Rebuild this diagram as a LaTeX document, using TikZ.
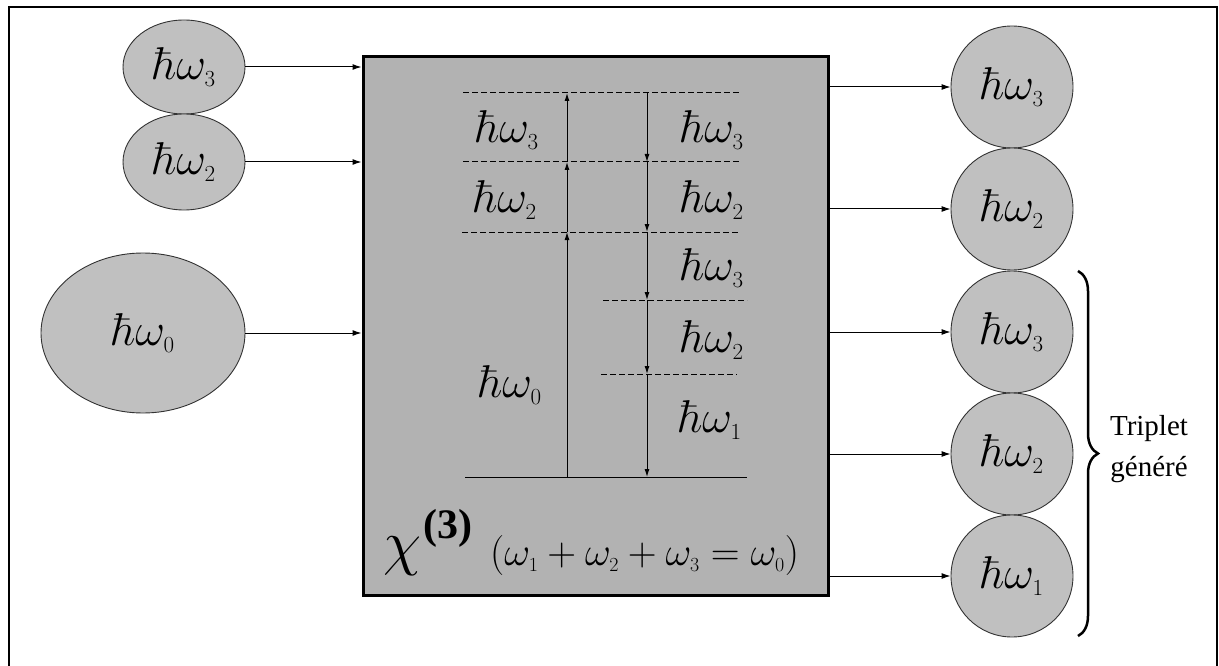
\RequirePackage{fix-cm}
\documentclass[tikz,border=0pt]{standalone}
\usepackage[no-math]{fontspec}
\setmainfont{Liberation Serif}
\usetikzlibrary{shapes.geometric,arrows.meta,decorations.pathreplacing}
\definecolor{circgray}{HTML}{C0C0C0}
\definecolor{boxgray}{HTML}{B2B2B2}
\newcommand{\hw}[1]{$\hbar\omega_{\scriptscriptstyle #1}$}
\begin{document}
\begin{tikzpicture}[x=1pt,y=-1pt,
  photon/.style={ellipse,draw=black!80,fill=circgray,line width=0.9pt,inner sep=0pt,font=\fontsize{46}{52}\selectfont},
  lvl/.style={font=\fontsize{46}{52}\selectfont,inner sep=0pt},
  conn/.style={line width=1pt,-{Latex[length=9pt,width=6pt]}},
  trans/.style={line width=1pt,-{Latex[length=8pt,width=5pt]}},
  dashlvl/.style={line width=1pt,dash pattern=on 6pt off 3pt},
  lbl/.style={font=\fontsize{29}{34}\selectfont,inner sep=0pt,anchor=base}]
\useasboundingbox (0,0) rectangle (1219,666);
\fill[white] (0,0) rectangle (1219,666);
\draw[line width=1.5pt] (9,672) -- (9,7) -- (1217,7) -- (1217,672);

% input photons
\node[photon,minimum width=122pt,minimum height=94pt] (L3) at (184,67) {\hw{3}};
\node[photon,minimum width=122pt,minimum height=96pt] (L2) at (184,162) {\hw{2}};
\node[photon,minimum width=204pt,minimum height=160pt] (L0) at (143,333) {\hw{0}};

% crystal box
\node[draw,line width=3pt,fill=boxgray,minimum width=465pt,minimum height=538pt,inner sep=0pt] (box) at (595.5,326) {};

\draw[conn] (L3.east) -- (L3.east -| box.west);
\draw[conn] (L2.east) -- (L2.east -| box.west);
\draw[conn] (L0.east) -- (L0.east -| box.west);

% output photons
\node[photon,minimum size=122pt] (R3a) at (1012,87) {\hw{3}};
\node[photon,minimum size=122pt] (R2a) at (1012,209) {\hw{2}};
\node[photon,minimum size=122pt] (R3) at (1012,332) {\hw{3}};
\node[photon,minimum size=122pt] (R2) at (1012,454) {\hw{2}};
\node[photon,minimum size=122pt] (R1) at (1012,576) {\hw{1}};

\draw[conn] (R3a.west -| box.east) -- (R3a.west);
\draw[conn] (R2a.west -| box.east) -- (R2a.west);
\draw[conn] (R3.west -| box.east) -- (R3.west);
\draw[conn] (R2.west -| box.east) -- (R2.west);
\draw[conn] (R1.west -| box.east) -- (R1.west);

% brace
\draw[line width=2.5pt,decorate,decoration={brace,amplitude=20pt}] (1078,271) -- (1078,636);
\node[lbl] (t1) at (1149,435) {Triplet};
\node[lbl] (t2) at (1149,476) {généré};

% energy levels
\coordinate (a0) at (567,477);
\coordinate (a1) at (567,232);
\coordinate (a2) at (567,162);
\coordinate (a3) at (567,93);
\coordinate (b0) at (647,93);
\coordinate (b1) at (647,162);
\coordinate (b2) at (647,232);
\coordinate (b3) at (647,300);
\coordinate (b4) at (647,374);
\coordinate (b5) at (647,477);
\draw[dashlvl] (463,93) -- (740,93);
\draw[dashlvl] (463,162) -- (740,162);
\draw[dashlvl] (462,232) -- (738,232);
\draw[dashlvl] (603,300) -- (747,300);
\draw[dashlvl] (601,374) -- (737,374);
\draw[line width=1pt] (465,477) -- (747,477);

\draw[trans] (a0) -- (a1);
\draw[trans] (a1) -- (a2);
\draw[trans] (a2) -- (a3);
\draw[trans] (b0) -- (b1);
\draw[trans] (b1) -- (b2);
\draw[trans] (b2) -- (b3);
\draw[trans] (b3) -- (b4);
\draw[trans] (b4) -- (b5);

\node[lvl] (h1) at (507,130) {\hw{3}};
\node[lvl] (h2) at (505,200) {\hw{2}};
\node[lvl] (h3) at (510,385) {\hw{0}};
\node[lvl] (h4) at (712,130) {\hw{3}};
\node[lvl] (h5) at (712,200) {\hw{2}};
\node[lvl] (h6) at (712,268) {\hw{3}};
\node[lvl] (h7) at (712,340) {\hw{2}};
\node[lvl] (h8) at (710,420) {\hw{1}};

% chi(3)
\node[inner sep=0pt,anchor=base west,font=\fontsize{62}{70}\selectfont] (chi) at (383,563) {$\chi$};
\node[inner sep=0pt,anchor=base west,font=\fontsize{42}{50}\selectfont\bfseries] (chi3) at ([xshift=2pt,yshift=25pt]chi.base east) {(3)};
\node[inner sep=0pt,anchor=base west,font=\fontsize{40}{48}\selectfont] (eq) at (490,565) {$(\omega_{\scriptscriptstyle 1}+\omega_{\scriptscriptstyle 2}+\omega_{\scriptscriptstyle 3}=\omega_{\scriptscriptstyle 0})$};
\end{tikzpicture}
\end{document}
